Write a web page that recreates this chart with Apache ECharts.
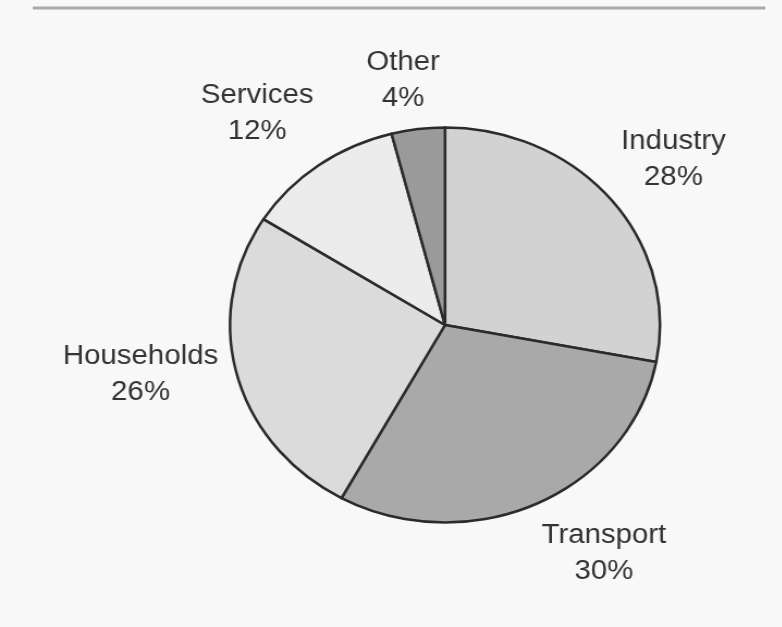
<!DOCTYPE html>
<html>
<head>
<meta charset="utf-8">
<script src="https://cdn.jsdelivr.net/npm/echarts@6/dist/echarts.min.js"></script>
<style>
  html, body { margin: 0; padding: 0; background: #f8f8f8; overflow: hidden; }
  /* the chart is drawn slightly widened, as in the printed figure */
  #chart { width: 718px; height: 627px; transform: scaleX(1.0886); transform-origin: 0 0; }
</style>
</head>
<body>
<div id="chart"></div>
<script>
// Energy consumption by sector (share, %)
const sectors = ['Industry', 'Transport', 'Households', 'Services', 'Other'];
const shares = [28, 30, 26, 12, 4];
const fills = ['#d2d2d2', '#a9a9a9', '#dbdbdb', '#ececec', '#9a9a9a'];

// label placement: radial distance (px) and angular nudge (deg) per sector
const labelDist = [267, 271, 284, 273, 247];
const labelNudge = [1.4, -7.4, 4.4, -3.2, -1.8];

const CX = 408.8, CY = 325, R = 197.5;
const total = shares.reduce((a, b) => a + b, 0);
const cum = shares.map((v, i) => shares.slice(0, i).reduce((a, b) => a + b, 0));

const chart = echarts.init(document.getElementById('chart'), null, { renderer: 'canvas' });

chart.setOption({
  backgroundColor: '#f8f8f8',
  animation: false,
  graphic: [
    {
      type: 'line',
      shape: { x1: 30, y1: 8, x2: 703, y2: 8 },
      style: { stroke: '#a9a9a9', lineWidth: 3 }
    }
  ],
  series: [
    {
      type: 'pie',
      center: [CX, CY],
      radius: R,
      startAngle: 90,
      clockwise: true,
      avoidLabelOverlap: false,
      data: sectors.map((name, i) => ({
        name: name,
        value: shares[i],
        itemStyle: { color: fills[i] }
      })),
      itemStyle: { borderColor: '#2b2b2b', borderWidth: 2.5 },
      label: {
        show: true,
        position: 'outside',
        formatter: p => p.name + '\n' + p.value + '%',
        fontFamily: 'Liberation Sans, Arial, sans-serif',
        fontSize: 27,
        lineHeight: 36,
        color: '#333333',
        align: 'center'
      },
      labelLine: { show: false },
      labelLayout: function (params) {
        const i = params.dataIndex;
        const mid = (cum[i] + shares[i] / 2) / total * 360 + labelNudge[i];
        const a = mid * Math.PI / 180;
        return {
          x: CX + labelDist[i] * Math.sin(a),
          y: CY - labelDist[i] * Math.cos(a),
          align: 'center',
          verticalAlign: 'middle'
        };
      },
      emphasis: { disabled: true }
    }
  ]
});
</script>
</body>
</html>
